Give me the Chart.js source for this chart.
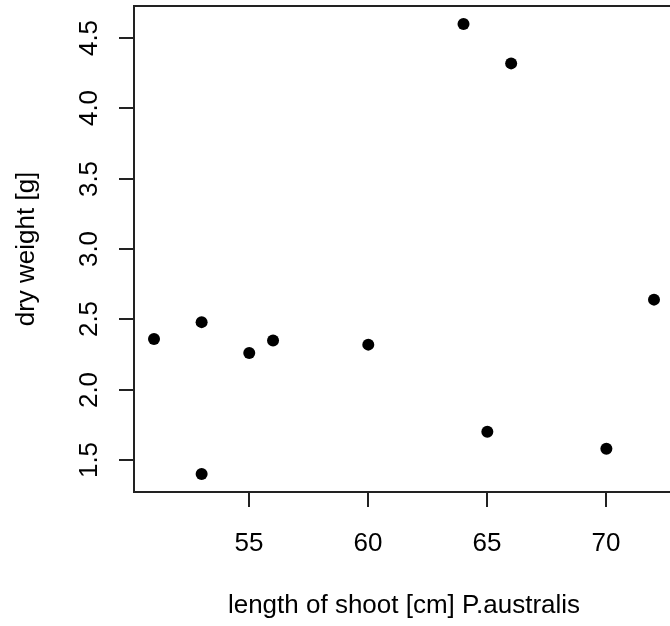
<!DOCTYPE html>
<html>
<head>
<meta charset="utf-8">
<script src="https://cdn.jsdelivr.net/npm/chart.js@4/dist/chart.umd.min.js"></script>
<style>
  html, body { margin: 0; padding: 0; background: #fff; overflow: hidden; }
  #wrap { position: absolute; left: 0; top: 0; width: 680px; height: 626px; }
</style>
</head>
<body>
<div id="wrap"><canvas id="chart-reed" width="680" height="626"></canvas></div>
<script>
// data
const lengthCm = [51, 53, 53, 55, 56, 60, 64, 65, 66, 70, 72];
const dryWeight = [2.36, 2.48, 1.40, 2.26, 2.35, 2.32, 4.60, 1.70, 4.32, 1.58, 2.64];
const xTicks = [55, 60, 65, 70];
const yTicks = [1.5, 2.0, 2.5, 3.0, 3.5, 4.0, 4.5];
const yTickLabels = ["1.5", "2.0", "2.5", "3.0", "3.5", "4.0", "4.5"];
const xTitle = "length of shoot [cm] P.australis";
const yTitle = "dry weight [g]";

// R style 4% axis padding
const pad = (arr) => {
  const lo = Math.min(...arr), hi = Math.max(...arr), d = (hi - lo) * 0.04;
  return [lo - d, hi + d];
};
const [xMin, xMax] = pad(lengthCm);
const [yMin, yMax] = pad(dryWeight);

const FONT = '26px "Liberation Sans", Arial, sans-serif';
const INK = '#222';

// box, ticks and labels drawn from the chart's own scales
const baseAxes = {
  id: 'baseAxes',
  afterDraw(chart) {
    const ctx = chart.ctx;
    const a = chart.chartArea;
    const xs = chart.scales.x, ys = chart.scales.y;
    ctx.save();
    ctx.strokeStyle = INK;
    ctx.lineWidth = 2;
    ctx.strokeRect(a.left, a.top, a.right - a.left, a.bottom - a.top);

    ctx.fillStyle = '#000';
    ctx.font = FONT;

    // x axis ticks
    ctx.textAlign = 'center';
    ctx.textBaseline = 'alphabetic';
    xTicks.forEach(v => {
      const px = Math.round(xs.getPixelForValue(v));
      ctx.beginPath();
      ctx.moveTo(px, a.bottom);
      ctx.lineTo(px, a.bottom + 15);
      ctx.stroke();
      ctx.fillText(String(v), px, a.bottom + 59);
    });

    // y axis ticks
    yTicks.forEach((v, i) => {
      const py = Math.round(ys.getPixelForValue(v));
      ctx.beginPath();
      ctx.moveTo(a.left, py);
      ctx.lineTo(a.left - 15, py);
      ctx.stroke();
      ctx.save();
      ctx.translate(a.left - 37, py);
      ctx.rotate(-Math.PI / 2);
      ctx.fillText(yTickLabels[i], 0, 0);
      ctx.restore();
    });

    // titles
    const cx = (a.left + a.right) / 2;
    const cy = (a.top + a.bottom) / 2;
    ctx.fillText(xTitle, cx, a.bottom + 121);
    ctx.save();
    ctx.translate(34, cy);
    ctx.rotate(-Math.PI / 2);
    ctx.fillText(yTitle, 0, 0);
    ctx.restore();
    ctx.restore();
  }
};

const ctx = document.getElementById('chart-reed').getContext('2d');
new Chart(ctx, {
  type: 'scatter',
  data: {
    datasets: [{
      label: 'P.australis',
      data: lengthCm.map((x, i) => ({ x: x, y: dryWeight[i] })),
      pointRadius: 6,
      pointHoverRadius: 6,
      pointBackgroundColor: '#000',
      pointBorderColor: '#000',
      pointBorderWidth: 0
    }]
  },
  options: {
    responsive: false,
    animation: false,
    devicePixelRatio: 1,
    layout: { padding: { left: 134, top: 5, right: 6, bottom: 134 } },
    plugins: {
      legend: { display: false },
      tooltip: { enabled: false }
    },
    scales: {
      x: { type: 'linear', min: xMin, max: xMax, display: false },
      y: { type: 'linear', min: yMin, max: yMax, display: false }
    }
  },
  plugins: [baseAxes]
});
</script>
</body>
</html>
